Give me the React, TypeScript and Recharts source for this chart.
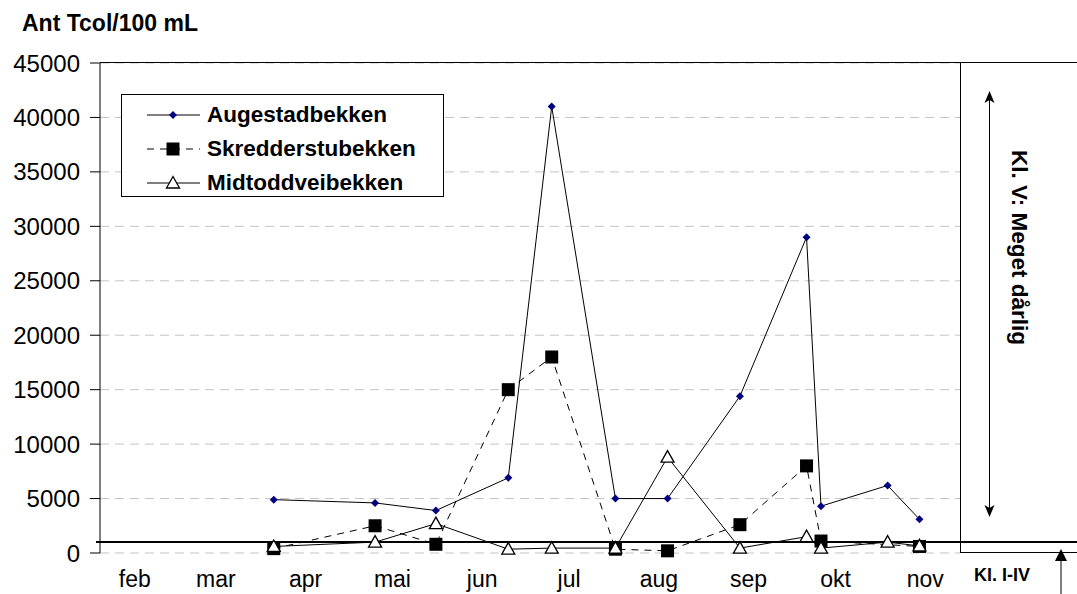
import React from 'react';
import {
  LineChart,
  Line,
  XAxis,
  YAxis,
  CartesianGrid,
  Legend,
  ReferenceLine
} from 'recharts';

const FONT = "'Liberation Sans', Arial, sans-serif";

// prøvetakingsdatoer (dag i året)
const sampleDays = [80, 115, 136, 161, 176, 198, 216, 241, 264, 269, 292, 303];

// Ant Tcol/100 mL per bekk
const augestad = [4900, 4600, 3900, 6900, 41000, 5000, 5000, 14400, 29000, 4300, 6200, 3100];
const skredderstu = [400, 2500, 800, 15000, 18000, 350, 200, 2600, 8000, 1100, null, 600];
const midtoddvei = [600, 1000, 2700, 350, 450, 450, 8800, 450, 1500, 450, 1000, 650];

const monthLabels = ['feb', 'mar', 'apr', 'mai', 'jun', 'jul', 'aug', 'sep', 'okt', 'nov'];
const monthStartDays = [32, 60, 91, 121, 152, 182, 213, 244, 274, 305];

const yTicks = [0, 5000, 10000, 15000, 20000, 25000, 30000, 35000, 40000, 45000];
const yMinorTicks = Array.from({ length: 46 }, (_, i) => i * 1000);

const xDomain = [20, 317];
const xTickMarks = Array.from({ length: 13 }, (_, i) => xDomain[0] + (i * (xDomain[1] - xDomain[0])) / 12);

// grense klasse I-IV / klasse V
const classLimit = 1000;

const seriesNames = ['Augestadbekken', 'Skredderstubekken', 'Midtoddveibekken'];

const data = sampleDays.map((day, i) => ({
  day,
  aug: augestad[i],
  skr: skredderstu[i],
  midt: midtoddvei[i]
}));

const monthName = (d: number) => monthLabels[monthStartDays.indexOf(d)] ?? '';

const Diamond = ({ cx, cy }: any) => {
  if (cx == null || cy == null) return <g />;
  return <polygon points={`${cx},${cy - 4} ${cx + 4},${cy} ${cx},${cy + 4} ${cx - 4},${cy}`} fill="#000080" />;
};

const Square = ({ cx, cy }: any) => {
  if (cx == null || cy == null) return <g />;
  return <rect x={cx - 6.5} y={cy - 6.5} width={13} height={13} fill="#000" />;
};

const Triangle = ({ cx, cy }: any) => {
  if (cx == null || cy == null) return <g />;
  return (
    <polygon
      points={`${cx},${cy - 6.5} ${cx + 6.5},${cy + 5} ${cx - 6.5},${cy + 5}`}
      fill="#fff"
      stroke="#000"
      strokeWidth={1.3}
    />
  );
};

const LegendBox = () => {
  const rows = [
    { dash: undefined, marker: <polygon points="26,-4 30,0 26,4 22,0" fill="#000080" /> },
    { dash: '7 6', marker: <rect x={19.5} y={-6.5} width={13} height={13} fill="#000" /> },
    {
      dash: undefined,
      marker: <polygon points="26,-6.5 32.5,5 19.5,5" fill="#fff" stroke="#000" strokeWidth={1.3} />
    }
  ];
  return (
    <div
      style={{
        width: 323,
        height: 103,
        border: '1px solid #000',
        background: '#fff',
        boxSizing: 'border-box',
        position: 'relative'
      }}
    >
      {rows.map((r, i) => (
        <div
          key={seriesNames[i]}
          style={{ position: 'absolute', left: 25, top: 20 + i * 34 - 17, height: 34, display: 'flex', alignItems: 'center' }}
        >
          <svg width={53} height={20} style={{ overflow: 'visible' }}>
            <g transform="translate(0,10)">
              <line x1={0} x2={53} y1={0} y2={0} stroke="#000" strokeWidth={1} strokeDasharray={r.dash} />
              {r.marker}
            </g>
          </svg>
          <span
            style={{
              marginLeft: 7,
              fontFamily: FONT,
              fontWeight: 'bold',
              fontSize: 22.5,
              color: '#000',
              whiteSpace: 'nowrap'
            }}
          >
            {seriesNames[i]}
          </span>
        </div>
      ))}
    </div>
  );
};

const LimitLine = (props: any) => {
  const { x1, y1 } = props;
  if (x1 == null || y1 == null) return <g />;
  return <line x1={x1 - 4} x2={1077} y1={y1} y2={y1} stroke="#000" strokeWidth={2} />;
};

const App: React.FC = () => {
  return (
    <div style={{ position: 'absolute', left: 0, top: 0, width: 1077, height: 594, background: '#fff' }}>
      <LineChart
        width={1077}
        height={594}
        data={data}
        margin={{ top: 63, right: 117, bottom: 0, left: 0 }}
        style={{ fontFamily: FONT }}
      >
        <CartesianGrid
          xAxisId="ticks"
          yAxisId="main"
          vertical={false}
          stroke="#c4c4c4"
          strokeDasharray="9 6"
        />
        <XAxis
          xAxisId="ticks"
          dataKey="day"
          type="number"
          domain={xDomain}
          allowDataOverflow
          ticks={xTickMarks}
          tick={false}
          tickSize={7}
          height={0}
          axisLine={{ stroke: '#000', strokeWidth: 2 }}
          tickLine={{ stroke: '#000' }}
        />
        <XAxis
          xAxisId="months"
          dataKey="day"
          type="number"
          domain={xDomain}
          allowDataOverflow
          ticks={monthStartDays}
          tickFormatter={monthName}
          interval={0}
          height={41}
          tickSize={0}
          tickMargin={18}
          axisLine={false}
          tickLine={false}
          tick={{ fill: '#000', fontSize: 23, fontFamily: FONT }}
        />
        <YAxis
          yAxisId="main"
          type="number"
          domain={[0, 45000]}
          ticks={yTicks}
          interval={0}
          width={100}
          tickSize={10}
          tickMargin={10}
          axisLine={{ stroke: '#000' }}
          tickLine={{ stroke: '#000' }}
          tick={{ fill: '#000', fontSize: 24, fontFamily: FONT }}
        />
        <YAxis
          yAxisId="minor"
          type="number"
          domain={[0, 45000]}
          ticks={yMinorTicks}
          interval={0}
          mirror
          width={0}
          tickSize={6}
          tick={false}
          axisLine={false}
          tickLine={{ stroke: '#000' }}
        />
        <ReferenceLine
          xAxisId="ticks"
          yAxisId="main"
          y={classLimit}
          ifOverflow="visible"
          shape={<LimitLine />}
        />
        <Line
          xAxisId="months"
          yAxisId="main"
          dataKey="aug"
          name={seriesNames[0]}
          stroke="#000"
          strokeWidth={1}
          dot={<Diamond />}
          activeDot={false}
          connectNulls
          isAnimationActive={false}
        />
        <Line
          xAxisId="months"
          yAxisId="main"
          dataKey="skr"
          name={seriesNames[1]}
          stroke="#000"
          strokeWidth={1}
          strokeDasharray="7 6"
          dot={<Square />}
          activeDot={false}
          connectNulls
          isAnimationActive={false}
        />
        <Line
          xAxisId="months"
          yAxisId="main"
          dataKey="midt"
          name={seriesNames[2]}
          stroke="#000"
          strokeWidth={1}
          dot={<Triangle />}
          activeDot={false}
          connectNulls
          isAnimationActive={false}
        />
        <Legend
          layout="vertical"
          align="center"
          verticalAlign="middle"
          wrapperStyle={{ left: 121, top: 94, width: 323 }}
          content={<LegendBox />}
        />
      </LineChart>

      <svg
        width={1077}
        height={594}
        style={{ position: 'absolute', left: 0, top: 0, pointerEvents: 'none', fontFamily: FONT }}
      >
        <text x={22} y={31} fontSize={23} fontWeight="bold" fill="#000">
          Ant Tcol/100 mL
        </text>
        {/* ramme rundt plott og klasseboks */}
        <line x1={100} x2={1077} y1={62.5} y2={62.5} stroke="#000" strokeWidth={1} />
        <line x1={960.5} x2={960.5} y1={62} y2={553} stroke="#000" strokeWidth={1} />
        <line x1={960} x2={1077} y1={552.5} y2={552.5} stroke="#000" strokeWidth={1} />
        {/* dobbeltpil klasse V */}
        <line x1={989.5} x2={989.5} y1={98} y2={510} stroke="#000" strokeWidth={1} />
        <polygon points="989.5,91 984.5,103 989.5,100 994.5,103" fill="#000" />
        <polygon points="989.5,517 984.5,505 989.5,508 994.5,505" fill="#000" />
        <text
          transform="translate(1012,150) rotate(90)"
          textAnchor="start"
          fontSize={22.5}
          fontWeight="bold"
          fill="#000"
        >
          Kl. V: Meget dårlig
        </text>
        <text x={974} y={581} fontSize={18} fontWeight="bold" fill="#000">
          Kl. I-IV
        </text>
        <line x1={1061} x2={1061} y1={558} y2={594} stroke="#000" strokeWidth={1} />
        <polygon points="1061,549 1055,561 1067,561" fill="#000" />
      </svg>
    </div>
  );
};

export default App;
